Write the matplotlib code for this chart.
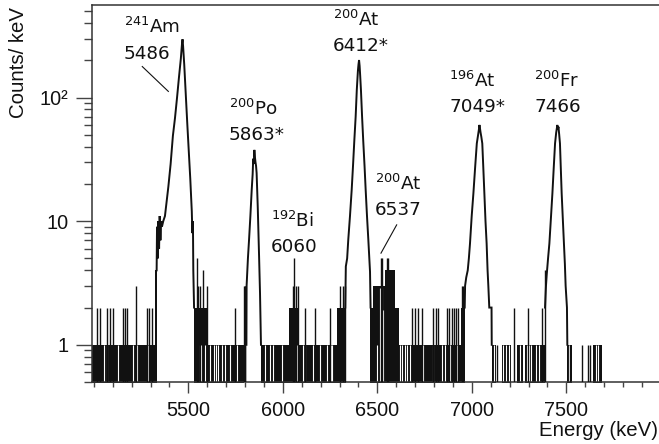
import matplotlib
matplotlib.use('Agg')
import matplotlib.pyplot as plt
from matplotlib.ticker import FixedLocator, FixedFormatter, MultipleLocator, LogLocator, NullFormatter

plt.rcParams['font.family'] = ['Liberation Sans', 'DejaVu Sans']

# ── peak envelopes: energy (keV), counts/keV ──────────────────────────────────
am_e = [5332, 5334, 5338, 5341, 5345, 5348, 5352, 5356, 5360, 5367, 5376, 5394,
        5406, 5418, 5429, 5440, 5450, 5460, 5466, 5469, 5472, 5478, 5487, 5494, 5500,
        5510, 5518, 5521, 5524, 5526, 5530]
am_n = [4, 9, 5, 10, 6, 11, 7, 10, 9, 10, 11, 19,
        29, 49, 68, 100, 145, 206, 270, 296, 260, 185, 100, 62, 42,
        22, 12, 8, 10, 4, 2]

po_e = [5807, 5808, 5815, 5821, 5828, 5835, 5840, 5843, 5846, 5849, 5852,
        5855, 5858, 5861, 5867, 5874, 5879, 5884]
po_n = [1, 3, 5, 7.1, 11, 17.9, 24, 32, 29, 37.7, 33,
        30, 28, 24.5, 13, 5.2, 2.6, 1]

at_e = [6330, 6333, 6340, 6346, 6355, 6364, 6371, 6378, 6385, 6391, 6397, 6400, 6403,
        6406, 6409, 6413, 6419, 6425, 6432, 6438, 6445, 6452, 6461, 6464]
at_n = [2, 4.3, 5, 7.1, 11, 17.9, 28, 45, 70, 115, 165, 185, 201,
        180, 150, 115, 70, 45, 28, 17.9, 11, 7.1, 3.9, 2]

a7_e = [6962, 6964, 6970, 6978, 6984, 6990, 6999, 7008, 7017, 7026, 7033, 7037, 7040,
        7043, 7046, 7050, 7055, 7060, 7066, 7072, 7078, 7083, 7087, 7092, 7104, 7105]
a7_n = [2, 3, 3.5, 4, 5, 6.6, 11, 16.8, 27, 42.5, 50, 55, 60,
        56, 52, 48, 42.5, 28, 16.8, 10, 6.6, 4, 3, 2, 2, 1]

fr_e = [7387, 7392, 7396, 7403, 7410, 7418, 7426, 7433, 7440, 7446, 7450, 7452, 7455,
        7458, 7462, 7466, 7470, 7475, 7481, 7487, 7492, 7496, 7503, 7505]
fr_n = [2, 3, 3.7, 5, 6.6, 10.5, 16.8, 27, 42.5, 52, 57, 60, 55,
        58, 50, 42.5, 28, 16.8, 10.5, 6.6, 4.5, 3, 2, 1]

# ── dense low-count background (keV ranges, filled up to a count level) ───────
bg_lo    = [4990, 5322, 5530, 5605, 5884, 6034, 6080, 6285, 6462, 6478, 6540, 6614,
            6940, 7105, 7157, 7240, 7281, 7505, 7642]
bg_hi    = [5325, 5332, 5605, 5796, 6034, 6080, 6285, 6336, 6614, 6540, 6593, 6963,
            6963, 7128, 7207, 7270, 7387, 7528, 7686]
bg_level = [1, 4, 2, 1, 1, 2, 1, 2, 2, 3, 4, 1,
            2, 1, 1, 1, 1, 1, 1]

# empty bins inside the dense background (white up to gap_top)
gap_e = [5052, 5071, 5129, 5205, 5226, 5288, 5549, 5567, 5588, 5614, 5635, 5646, 5658,
         5676, 5694, 5720, 5756, 5905, 5932, 5949, 5994, 6073, 6105, 6118, 6158, 6196,
         6235, 6252, 6258, 6496, 6514, 6522, 6531, 6618, 6629, 6645, 6658, 6673, 6743,
         6796, 6840, 6858, 6884, 6920, 7115, 7165, 7180, 7195, 7255, 7290, 7300, 7312,
         7340, 7355, 7512, 7655, 7668]
gap_top = [1, 1, 1, 1, 1, 1, 1, 1, 1, 1, 1, 1, 1,
           1, 1, 1, 1, 1, 1, 1, 1, 1, 1, 1, 1, 1,
           1, 1, 1, 1, 2.9, 2.9, 1.9, 1, 1, 1, 1, 1, 1,
           1, 1, 1, 1, 1, 1, 1, 1, 1, 1, 1, 1, 1,
           1, 1, 1, 1, 1]

# single bins standing above the background
spike_e = [5018, 5032, 5068, 5085, 5103, 5152, 5165, 5173, 5221, 5279, 5293, 5306,
           5544, 5549, 5562, 5579, 5597, 5747, 5792, 5797, 5801, 6051, 6059, 6072,
           6082, 6117, 6170, 6249, 6302, 6318, 6328, 6517, 6522, 6549, 6558, 6682,
           6699, 6717, 6734, 6796, 6810, 6822, 6866, 6880, 6895, 6905, 6915, 6928,
           6946, 6955, 7133, 7224, 7295, 7369, 7387, 7519, 7584, 7612, 7625]
spike_n = [2, 2, 2, 2, 2, 2, 2, 2, 3, 2, 2, 2,
           5, 3, 3, 4, 3, 2, 3, 3, 3, 3, 5, 3,
           3, 2, 2, 2, 3, 3, 3, 5, 5, 5, 5, 2,
           2, 2, 2, 2, 2, 2, 2, 2, 2, 2, 2, 2,
           3, 3, 1, 2, 2, 2, 4, 1, 1, 1, 1]

# ── peak labels ───────────────────────────────────────────────────────────────
lab_mass = ['241', '200', '192', '200', '200', '196', '200']
lab_elem = ['Am', 'Po', 'Bi', 'At', 'At', 'At', 'Fr']
lab_text = ['5486', '5863*', '6060', '6412*', '6537', '7049*', '7466']
lab_x    = [5159, 5715, 5935, 6264, 6487, 6879, 7329]
lab_y1   = [331, 72.3, 9.04, 379, 17.9, 121, 121]
lab_y2   = [203, 45.4, 5.68, 239, 11.2, 76.1, 76.1]

leader_am  = ([5256, 5394], [178, 112])
leader_537 = ([6602, 6519], [9.33, 5.51])

ink = '#111111'

fig = plt.figure(figsize=(6.59, 4.44), dpi=100)
ax = fig.add_axes([92 / 659, 62 / 444, 567 / 659, 377 / 444])
ax.set_yscale('log')

for lo, hi, lev in zip(bg_lo, bg_hi, bg_level):
    ax.fill_between([lo, hi], 0.3, lev, color=ink, lw=0, zorder=1)
ax.vlines(gap_e, 0.3, gap_top, color='white', lw=0.8, zorder=2)
ax.vlines(spike_e, 0.3, spike_n, color=ink, lw=1.0, zorder=3)

for e, n in [(am_e, am_n), (po_e, po_n), (at_e, at_n), (a7_e, a7_n), (fr_e, fr_n)]:
    ax.plot(e, n, color=ink, lw=1.4, zorder=4, solid_joinstyle='miter')

for m, el, t, x, y1, y2 in zip(lab_mass, lab_elem, lab_text, lab_x, lab_y1, lab_y2):
    ax.text(x, y1, r'$^{%s}$%s' % (m, el), family='DejaVu Sans', fontsize=13.2,
            ha='left', va='baseline', color=ink, zorder=5)
    ax.text(x, y2, t, family='DejaVu Sans', fontsize=13.2,
            ha='left', va='baseline', color=ink, zorder=5)

for xs, ys in (leader_am, leader_537):
    ax.plot(xs, ys, color=ink, lw=0.8, zorder=5)

ax.set_xlim(4990, 7990)
ax.set_ylim(0.5, 560)

ax.xaxis.set_major_locator(FixedLocator([5500, 6000, 6500, 7000, 7500]))
ax.xaxis.set_minor_locator(MultipleLocator(100))
ax.yaxis.set_major_locator(FixedLocator([1, 10, 100]))
ax.yaxis.set_major_formatter(FixedFormatter(['1', '10', '10²']))
ax.yaxis.set_minor_locator(LogLocator(base=10, subs=range(2, 10)))
ax.yaxis.set_minor_formatter(NullFormatter())

ax.tick_params(axis='both', which='both', direction='out', color='#444444', width=1.0,
               labelsize=14.3, labelcolor=ink)
ax.tick_params(axis='x', which='major', length=8, pad=5.5)
ax.tick_params(axis='x', which='minor', length=3.6)
ax.tick_params(axis='y', which='major', length=11.5, pad=5.5)
ax.tick_params(axis='y', which='minor', length=5.8)
ax.tick_params(top=False, right=False, which='both')

ax.spines['right'].set_visible(False)
for s in ('top', 'left', 'bottom'):
    ax.spines[s].set_color('#333333')
    ax.spines[s].set_linewidth(1.1)

fig.text(19 / 659, 1 - 7 / 444, 'Counts/ keV', rotation=90, ha='center', va='top',
         fontsize=14.7, color=ink)
fig.text(658 / 659, 1 - 436 / 444, 'Energy (keV)', ha='right', va='baseline',
         fontsize=14.7, color=ink)

fig.savefig('out.png', dpi=100)
